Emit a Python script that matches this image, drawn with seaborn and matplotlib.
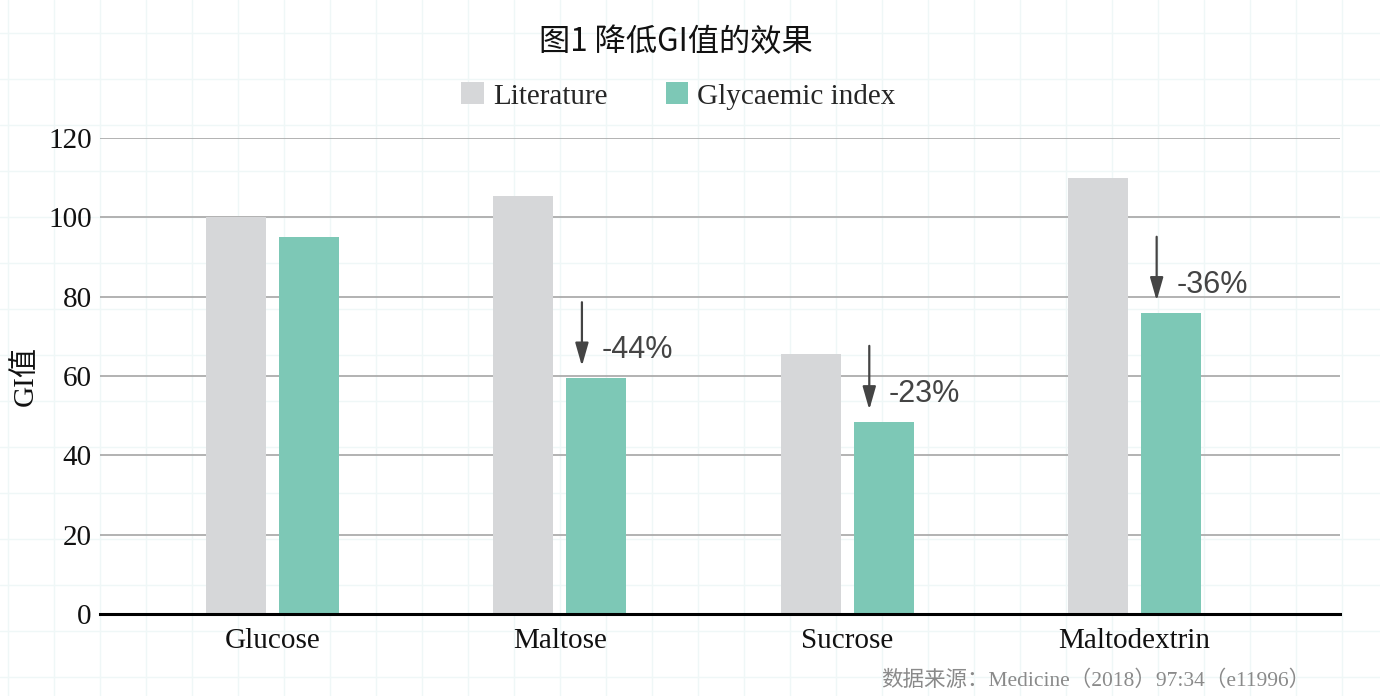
import matplotlib
matplotlib.use("Agg")
import matplotlib.pyplot as plt
import numpy as np
import pandas as pd
import seaborn as sns

# ---- data ----
categories = ["Glucose", "Maltose", "Sucrose", "Maltodextrin"]
literature = [100, 105.5, 65.5, 110]
glycaemic = [95, 59.5, 48.5, 76]
series_names = ["Literature", "Glycaemic index"]
change_labels = [None, "-44%", "-23%", "-36%"]
yticks = [0, 20, 40, 60, 80, 100, 120]
title_text = "图1 降低GI值的效果"
ylabel_text = "GI值"
source_text = "数据来源：Medicine（2018）97:34（e11996）"

df = pd.DataFrame({
    "sugar": categories * 2,
    "series": [series_names[0]] * len(categories) + [series_names[1]] * len(categories),
    "value": literature + glycaemic,
})

sns.set_theme(style="white")
plt.rcParams["font.family"] = ["Liberation Serif", "Noto Sans CJK SC", "DejaVu Sans"]

W, H = 1380, 696
fig = plt.figure(figsize=(W / 100, H / 100), dpi=100)
fig.patch.set_facecolor("white")

# faint background grid texture
bg = fig.add_axes([0, 0, 1, 1], zorder=0)
bg.set_xlim(0, W)
bg.set_ylim(H, 0)
bg.set_xticks(np.arange(8.3, W, 46))
bg.set_yticks(np.arange(33, H, 46))
bg.grid(True, color="#eff7f7", lw=1.0)
bg.tick_params(length=0, labelbottom=False, labelleft=False)
for s in bg.spines.values():
    s.set_visible(False)
bg.set_facecolor("white")

gray = "#d6d7d9"
teal = "#7dc8b6"

ax = fig.add_axes([100 / W, 1 - 614 / H, 1240 / W, 476 / H], zorder=1)
ax.set_facecolor("none")
sns.barplot(data=df, x="sugar", y="value", hue="series", palette=[gray, teal],
            width=0.508, gap=0.178, ax=ax, saturation=1, zorder=2,
            edgecolor="none", linewidth=0)
ax.set_xlim(-0.6, 3.715)
ax.set_ylim(0, 120)
ax.set_yticks(yticks)
ax.yaxis.grid(True, color="#acacac", lw=1.3, zorder=0)
ax.set_axisbelow(True)
for k in ["left", "right", "top"]:
    ax.spines[k].set_visible(False)
ax.spines["bottom"].set_color("black")
ax.spines["bottom"].set_linewidth(2.2)
ax.spines["bottom"].set_zorder(3)
ax.tick_params(axis="both", length=0, labelsize=21, colors="#111111")
ax.tick_params(axis="y", pad=6)
ax.tick_params(axis="x", pad=10)
ax.set_xlabel("")
ax.set_ylabel(ylabel_text, fontsize=21, color="#111111")
ax.yaxis.set_label_coords(-0.049, 0.5)

# arrows & change labels
for i, (g, lab) in enumerate(zip(glycaemic, change_labels)):
    if lab is None:
        continue
    xa = i + 0.077
    tip = g + 3.0
    ax.annotate("", xy=(xa, tip), xytext=(xa, tip + 16.1),
                arrowprops=dict(arrowstyle="-|>,head_length=0.7,head_width=0.2",
                                color="#444444", lw=1.6, mutation_scale=20,
                                shrinkA=0, shrinkB=0), zorder=4)
    ax.text(xa + 0.068, tip + 4.0, lab, ha="left", va="center", fontsize=22,
            color="#444444", family=["Liberation Sans", "DejaVu Sans"], zorder=4)

# legend
handles, labels = ax.get_legend_handles_labels()
if ax.get_legend() is not None:
    ax.get_legend().remove()
fig.legend(handles, labels, loc="center", bbox_to_anchor=(678.5 / W, 1 - 96 / H),
           ncol=2, frameon=False, fontsize=21, handlelength=0.78, handleheight=0.78,
           handletextpad=0.3, columnspacing=2.0)

fig.text(676 / W, 1 - 42 / H, title_text, ha="center", va="center", fontsize=22.5,
         weight="medium", color="#111111", family=["Noto Sans CJK SC", "DejaVu Sans"])
fig.text(1310 / W, 1 - 681 / H, source_text, ha="right", va="center", fontsize=15.5,
         color="#8a8a8a")

fig.savefig("out.png", dpi=100)
